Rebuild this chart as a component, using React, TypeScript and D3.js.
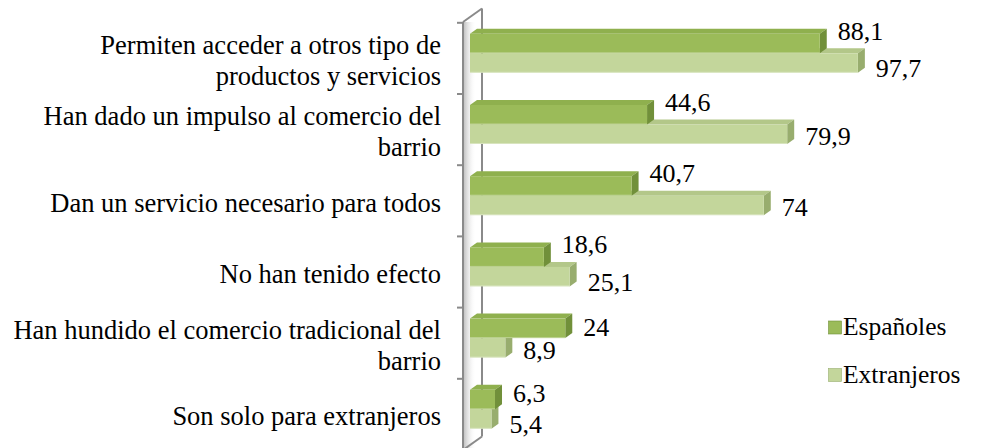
import React from "react";
import * as d3 from "d3";

const categories = [
  "Permiten acceder a otros tipo de\nproductos y servicios",
  "Han dado un impulso al comercio del\nbarrio",
  "Dan un servicio necesario para todos",
  "No han tenido efecto",
  "Han hundido el comercio tradicional del\nbarrio",
  "Son solo para extranjeros",
];
const espanoles = [88.1, 44.6, 40.7, 18.6, 24, 6.3];
const extranjeros = [97.7, 79.9, 74, 25.1, 8.9, 5.4];
const seriesNames = ["Españoles", "Extranjeros"];

const W = 997;
const H = 448;
const FONT = "'Liberation Serif', 'Times New Roman', Tinos, serif";

const colors = [
  { front: "#9bbb59", top: "#8fb04e", side: "#71903a" },
  { front: "#c3d69b", top: "#b3c789", side: "#98ad6e" },
];

const fmt = d3.formatLocale({ decimal: ",", thousands: ".", grouping: [3], currency: ["", "€"] }).format("~r");

export default function App() {
  const x = d3.scaleLinear().domain([0, 100]).range([470, 867]);
  const y = d3.scaleBand<number>().domain(d3.range(categories.length)).range([22.8, 22.8 + 71.2 * 6]).paddingInner(0);
  const inner = d3.scaleBand<number>().domain([0, 1]).range([11, 50]);
  const dx = 7;
  const dy = -5;
  const series = [espanoles, extranjeros];
  const labelW = (v: number) => fmt(v).length * 12.5;

  const frontX = 463;
  const backX = 482;
  const wTop = y(0)! - 0.8;
  const wBottom = y.range()[1];
  const wdy = -13.5;

  const bars: React.ReactNode[] = [];
  const labels: React.ReactNode[] = [];
  categories.forEach((_, i) => {
    const le = x(espanoles[i]) + 18;
    const lx = x(extranjeros[i]) + 18;
    const overlap = Math.abs(le - lx) < Math.max(labelW(espanoles[i]), labelW(extranjeros[i]));
    // draw Extranjeros first, then Españoles on top
    [1, 0].forEach((s) => {
      const v = series[s][i];
      const x0 = x(0);
      const xe = x(v);
      const yt = y(i)! + inner(s)!;
      const h = inner.bandwidth();
      const c = colors[s];
      bars.push(
        <g key={`b${i}-${s}`}>
          <polygon
            points={`${x0},${yt} ${x0 + dx},${yt + dy} ${xe + dx},${yt + dy} ${xe},${yt}`}
            fill={c.top}
          />
          <polygon
            points={`${xe},${yt} ${xe + dx},${yt + dy} ${xe + dx},${yt + h + dy} ${xe},${yt + h}`}
            fill={c.side}
          />
          <rect x={x0} y={yt} width={xe - x0} height={h} fill={c.front} />
          <line x1={x0} x2={xe} y1={yt + h - 0.5} y2={yt + h - 0.5} stroke="#ffffff" strokeOpacity={0.35} />
        </g>
      );
      const center = yt + h / 2;
      let base: number;
      if (s === 0) {
        base = extranjeros[i] > espanoles[i] ? center - 4 : overlap ? center + 2 : center + 8;
      } else {
        base = overlap ? center + 14 : center + 11;
      }
      labels.push(
        <text key={`l${i}-${s}`} x={xe + 18} y={base} fontSize={26} fontFamily={FONT} style={{ fontFamily: FONT }} fill="#000">
          {fmt(v)}
        </text>
      );
    });
  });

  return (
    <div style={{ position: "fixed", left: 0, top: 0, width: W, height: H, background: "#fff" }}>
      <svg width={W} height={H} style={{ display: "block" }}>
        <defs>
          <linearGradient id="wallShade" x1="0" x2="1" y1="0" y2="0">
            <stop offset="0" stopColor="#bdbdbd" stopOpacity={0.9} />
            <stop offset="1" stopColor="#ffffff" stopOpacity={0} />
          </linearGradient>
        </defs>
        <rect width={W} height={H} fill="#fff" />
        {/* wall shading */}
        <rect x={frontX + 1} y={wTop} width={12} height={wBottom - wTop} fill="url(#wallShade)" />
        {/* wall lines */}
        <g stroke="#8a8a8a" strokeWidth={2} fill="none">
          <line x1={frontX} x2={frontX} y1={wTop} y2={wBottom} />
          <line x1={backX} x2={backX} y1={wTop + wdy} y2={wBottom + wdy} />
          <line x1={frontX} x2={backX} y1={wTop} y2={wTop + wdy} />
          <line x1={frontX} x2={backX} y1={wBottom} y2={wBottom + wdy} />
          {d3.range(categories.length + 1).map((k) => {
            const ty = k < categories.length ? y(k)! : wBottom;
            return <line key={k} x1={frontX - 6} x2={frontX} y1={ty} y2={ty} />;
          })}
        </g>
        {bars}
        {labels}
        {/* category labels */}
        {categories.map((c, i) => {
          const lines = c.split("\n");
          const center = y(i)! + y.bandwidth() / 2;
          const first = center + 11 - ((lines.length - 1) * 31) / 2;
          return (
            <text key={`c${i}`} x={441} y={first} textAnchor="end" fontSize={26.5} fontFamily={FONT} style={{ fontFamily: FONT }} fill="#000">
              {lines.map((ln, k) => (
                <tspan key={k} x={441} y={first + k * 31}>
                  {ln}
                </tspan>
              ))}
            </text>
          );
        })}
        {/* legend */}
        {seriesNames.map((n, s) => {
          const ly = 334 + s * 47.5;
          return (
            <g key={n}>
              <rect x={828.5} y={ly - 13} width={13} height={13} fill={colors[s].front} stroke={colors[s].side} strokeWidth={0.6} />
              <text x={843} y={ly + 1} fontSize={25.5} fontFamily={FONT} style={{ fontFamily: FONT }} fill="#000">
                {n}
              </text>
            </g>
          );
        })}
      </svg>
    </div>
  );
}
